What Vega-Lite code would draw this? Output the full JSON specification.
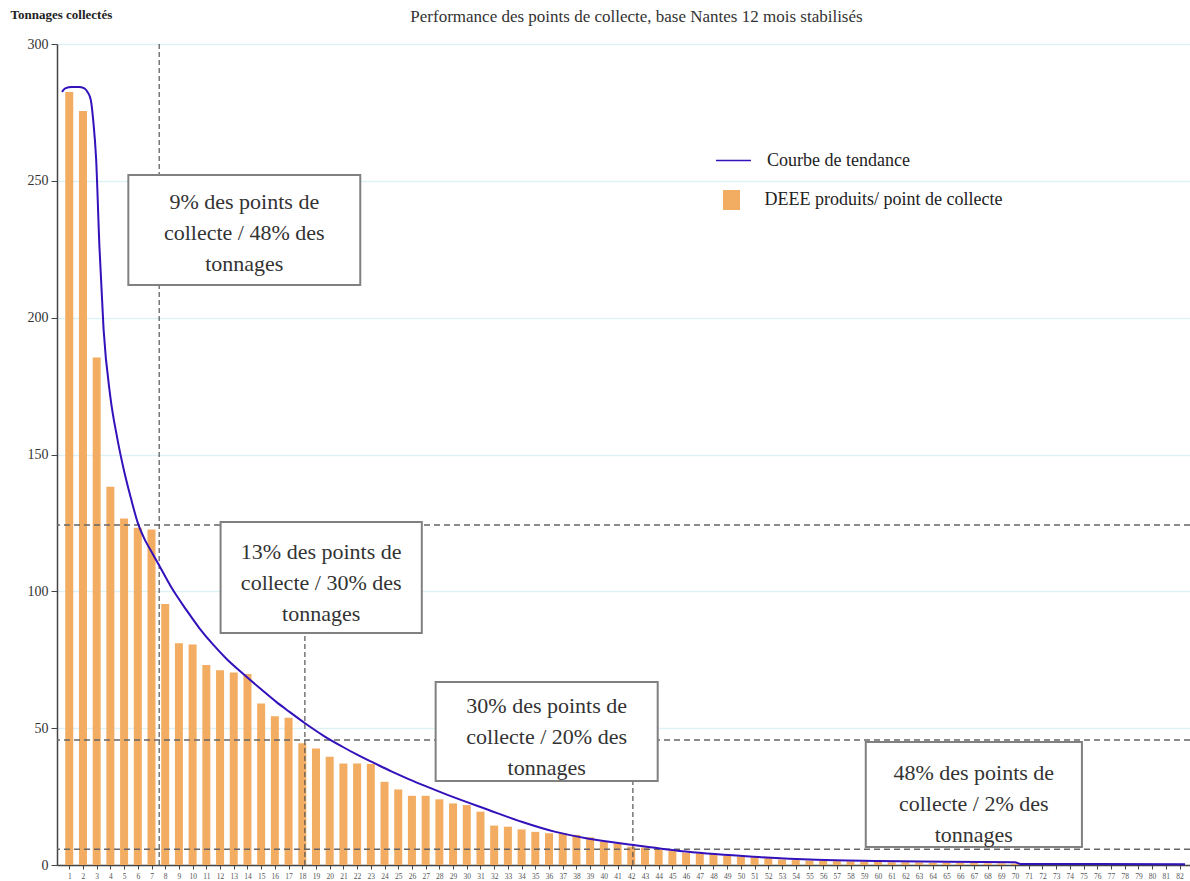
{
  "$schema": "https://vega.github.io/schema/vega-lite/v6.json",
  "width": 1133,
  "height": 821,
  "autosize": "none",
  "padding": {"left": 57, "top": 44, "right": 0, "bottom": 16},
  "background": "white",
  "config": {
    "view": {"stroke": null},
    "font": "Liberation Serif",
    "axisX": {"labelOverlap": false, "labelSeparation": 0, "labelBound": false, "tickCount": 200}
  },
  "title": {
    "text": "Performance des points de collecte, base Nantes 12 mois stabilisés",
    "font": "Liberation Serif",
    "fontSize": 17,
    "fontWeight": "normal",
    "color": "#333333",
    "anchor": "middle",
    "frame": "group",
    "baseline": "alphabetic",
    "offset": -31,
    "dx": 13
  },
  "datasets": {
    "bars": [
      {"n": 1, "t": 282.5}, {"n": 2, "t": 275.5}, {"n": 3, "t": 185.4}, {"n": 4, "t": 138.2},
      {"n": 5, "t": 126.6}, {"n": 6, "t": 123.2}, {"n": 7, "t": 122.6}, {"n": 8, "t": 95.4},
      {"n": 9, "t": 81.0}, {"n": 10, "t": 80.6}, {"n": 11, "t": 73.1}, {"n": 12, "t": 71.2},
      {"n": 13, "t": 70.3}, {"n": 14, "t": 69.8}, {"n": 15, "t": 59.0}, {"n": 16, "t": 54.4},
      {"n": 17, "t": 53.8}, {"n": 18, "t": 44.5}, {"n": 19, "t": 42.6}, {"n": 20, "t": 39.6},
      {"n": 21, "t": 37.1}, {"n": 22, "t": 37.1}, {"n": 23, "t": 36.9}, {"n": 24, "t": 30.4},
      {"n": 25, "t": 27.6}, {"n": 26, "t": 25.3}, {"n": 27, "t": 25.3}, {"n": 28, "t": 24.0},
      {"n": 29, "t": 22.5}, {"n": 30, "t": 21.9}, {"n": 31, "t": 19.5}, {"n": 32, "t": 14.4},
      {"n": 33, "t": 14.0}, {"n": 34, "t": 13.0}, {"n": 35, "t": 12.1}, {"n": 36, "t": 11.6},
      {"n": 37, "t": 11.6}, {"n": 38, "t": 11.0}, {"n": 39, "t": 10.1}, {"n": 40, "t": 8.5},
      {"n": 41, "t": 7.9}, {"n": 42, "t": 6.7}, {"n": 43, "t": 6.4}, {"n": 44, "t": 5.5},
      {"n": 45, "t": 5.3}, {"n": 46, "t": 4.5}, {"n": 47, "t": 4.3}, {"n": 48, "t": 4.0},
      {"n": 49, "t": 3.4}, {"n": 50, "t": 3.0}, {"n": 51, "t": 2.8}, {"n": 52, "t": 2.6},
      {"n": 53, "t": 2.0}, {"n": 54, "t": 1.8}, {"n": 55, "t": 1.6}, {"n": 56, "t": 1.5},
      {"n": 57, "t": 1.4}, {"n": 58, "t": 1.3}, {"n": 59, "t": 1.2}, {"n": 60, "t": 1.1},
      {"n": 61, "t": 1.0}, {"n": 62, "t": 1.0}, {"n": 63, "t": 0.9}, {"n": 64, "t": 0.8},
      {"n": 65, "t": 0.8}, {"n": 66, "t": 0.7}, {"n": 67, "t": 0.7}, {"n": 68, "t": 0.6},
      {"n": 69, "t": 0.6}, {"n": 70, "t": 0.5}, {"n": 71, "t": 0.5}, {"n": 72, "t": 0.4},
      {"n": 73, "t": 0.4}, {"n": 74, "t": 0.4}, {"n": 75, "t": 0.3}, {"n": 76, "t": 0.3},
      {"n": 77, "t": 0.3}, {"n": 78, "t": 0.2}, {"n": 79, "t": 0.2}, {"n": 80, "t": 0.2},
      {"n": 81, "t": 0.1}, {"n": 82, "t": 0.1}
    ],
    "curve": [
      {"x": 0.47, "y": 282.5}, {"x": 0.7, "y": 283.8}, {"x": 1.2, "y": 284.3}, {"x": 1.7, "y": 284.3},
      {"x": 2.1, "y": 283.8}, {"x": 2.33, "y": 282.5}, {"x": 2.57, "y": 279.6}, {"x": 2.75, "y": 272},
      {"x": 2.96, "y": 258}, {"x": 3.2, "y": 226}, {"x": 3.5, "y": 196}, {"x": 4.0, "y": 171},
      {"x": 4.5, "y": 156}, {"x": 5.0, "y": 144}, {"x": 5.5, "y": 134}, {"x": 6.0, "y": 125},
      {"x": 6.5, "y": 119}, {"x": 7.0, "y": 114.5}, {"x": 7.5, "y": 110}, {"x": 8.5, "y": 101},
      {"x": 9.5, "y": 93.5}, {"x": 10.5, "y": 86.5}, {"x": 11.5, "y": 80.5}, {"x": 12.5, "y": 75.2},
      {"x": 13.7, "y": 69.8}, {"x": 15.0, "y": 64.2}, {"x": 16.1, "y": 59.6}, {"x": 17.0, "y": 56.2},
      {"x": 18.2, "y": 51.8}, {"x": 19.5, "y": 47.4}, {"x": 20.9, "y": 43.3}, {"x": 22.0, "y": 40.3},
      {"x": 23.3, "y": 37.1}, {"x": 24.5, "y": 34.2}, {"x": 25.8, "y": 31.3}, {"x": 27.0, "y": 28.8},
      {"x": 28.5, "y": 25.8}, {"x": 31.6, "y": 20.1},
      {"x": 34.0, "y": 15.8}, {"x": 36.4, "y": 12.2}, {"x": 38.8, "y": 9.7}, {"x": 42.2, "y": 7.3},
      {"x": 46.0, "y": 4.9}, {"x": 50.9, "y": 3.0}, {"x": 55.5, "y": 1.9}, {"x": 60.0, "y": 1.5},
      {"x": 65.0, "y": 1.2}, {"x": 70.0, "y": 1.0}, {"x": 70.4, "y": 0.4}, {"x": 82.4, "y": 0.3}
    ],
    "boxes": [
      {"x1": 5.31, "x2": 22.23, "y1": 252.1, "y2": 211.9, "cx": 13.77, "cy": 242.2, "label": ["9% des points de", "collecte / 48% des", "tonnages"]},
      {"x1": 12.04, "x2": 26.72, "y1": 125.3, "y2": 84.8, "cx": 19.38, "cy": 114.4, "label": ["13% des points de", "collecte / 30% des", "tonnages"]},
      {"x1": 27.73, "x2": 43.93, "y1": 66.9, "y2": 30.7, "cx": 35.83, "cy": 58.1, "label": ["30% des points de", "collecte / 20% des", "tonnages"]},
      {"x1": 59.11, "x2": 74.88, "y1": 44.9, "y2": 6.6, "cx": 66.99, "cy": 33.8, "label": ["48% des points de", "collecte / 2% des", "tonnages"]}
    ],
    "hrules": [{"y": 124.2}, {"y": 45.7}, {"y": 5.8}],
    "vrules": [
      {"x": 7.56, "y1": 0, "y2": 300},
      {"x": 18.19, "y1": 0, "y2": 90},
      {"x": 42.12, "y1": 0, "y2": 35}
    ]
  },
  "layer": [
    {
      "data": {"name": "bars"},
      "mark": {"type": "bar", "width": 8},
      "encoding": {
        "x": {
          "field": "n", "type": "quantitative",
          "scale": {"domain": [0.47, 82.4], "nice": false, "zero": false},
          "axis": {
            "title": null,
            "values": [1,2,3,4,5,6,7,8,9,10,11,12,13,14,15,16,17,18,19,20,21,22,23,24,25,26,27,28,29,30,31,32,33,34,35,36,37,38,39,40,41,42,43,44,45,46,47,48,49,50,51,52,53,54,55,56,57,58,59,60,61,62,63,64,65,66,67,68,69,70,71,72,73,74,75,76,77,78,79,80,81,82],
            "tickCount": 200,
            "format": "d",
            "labelFont": "Liberation Serif",
            "labelFontSize": 7.5,
            "labelColor": "#555555",
            "labelOverlap": false,
            "labelFlush": false,
            "labelPadding": 3,
            "tickSize": 4,
            "tickColor": "#444444",
            "domainColor": "#444444",
            "domainWidth": 1.5,
            "grid": false
          }
        },
        "y": {
          "field": "t", "type": "quantitative",
          "scale": {"domain": [0, 300], "nice": false},
          "axis": {
            "title": "Tonnages collectés",
            "titleAngle": 0,
            "titleAlign": "left",
            "titleBaseline": "alphabetic",
            "titleX": -47,
            "titleY": -26,
            "titleFont": "Liberation Serif",
            "titleFontSize": 13,
            "titleFontWeight": "bold",
            "titleColor": "#222222",
            "values": [0, 50, 100, 150, 200, 250, 300],
            "labelFont": "Liberation Serif",
            "labelFontSize": 14,
            "labelColor": "#333333",
            "labelPadding": 3,
            "tickSize": 6,
            "tickColor": "#444444",
            "domainColor": "#444444",
            "domainWidth": 1.5,
            "grid": true,
            "gridColor": "#DDF1F6",
            "gridWidth": 1.5
          }
        },
        "fill": {
          "datum": "DEEE produits/ point de collecte",
          "type": "nominal",
          "scale": {"range": ["#F3AD62"]},
          "legend": {
            "title": null,
            "orient": "none",
            "legendX": 664.5,
            "legendY": 146,
            "padding": 0,
            "symbolType": "M-0.85,-1H0.85V1H-0.85Z",
            "symbolSize": 400,
            "symbolStrokeWidth": 0,
            "labelFont": "Liberation Serif",
            "labelFontSize": 18,
            "labelColor": "#222222",
            "labelLimit": 400,
            "labelOffset": 23
          }
        }
      }
    },
    {
      "data": {"name": "hrules"},
      "mark": {"type": "rule", "color": "#666666", "strokeWidth": 1.5, "strokeDash": [6, 4]},
      "encoding": {"y": {"field": "y", "type": "quantitative"}}
    },
    {
      "data": {"name": "vrules"},
      "mark": {"type": "rule", "color": "#555555", "strokeWidth": 1.2, "strokeDash": [5, 3]},
      "encoding": {
        "x": {"field": "x", "type": "quantitative"},
        "y": {"field": "y1", "type": "quantitative"},
        "y2": {"field": "y2"}
      }
    },
    {
      "data": {"name": "curve"},
      "mark": {"type": "line", "interpolate": "monotone", "strokeWidth": 2},
      "encoding": {
        "x": {"field": "x", "type": "quantitative"},
        "y": {"field": "y", "type": "quantitative"},
        "stroke": {
          "datum": "Courbe de tendance",
          "type": "nominal",
          "scale": {"range": ["#3311BB"]},
          "legend": {
            "title": null,
            "orient": "none",
            "legendX": 658,
            "legendY": 98,
            "padding": 0,
            "symbolType": "stroke",
            "symbolSize": 1225,
            "symbolStrokeWidth": 1.5,
            "labelFont": "Liberation Serif",
            "labelFontSize": 18,
            "labelColor": "#222222",
            "labelLimit": 400,
            "labelOffset": 15
          }
        }
      }
    },
    {
      "data": {"name": "boxes"},
      "mark": {"type": "rect", "fill": "white", "stroke": "#808080", "strokeWidth": 2},
      "encoding": {
        "x": {"field": "x1", "type": "quantitative"},
        "x2": {"field": "x2"},
        "y": {"field": "y1", "type": "quantitative"},
        "y2": {"field": "y2"}
      }
    },
    {
      "data": {"name": "boxes"},
      "mark": {"type": "text", "font": "Liberation Serif", "fontSize": 22, "color": "#333333", "lineHeight": 31, "align": "center", "baseline": "middle"},
      "encoding": {
        "x": {"field": "cx", "type": "quantitative"},
        "y": {"field": "cy", "type": "quantitative"},
        "text": {"field": "label"}
      }
    }
  ]
}
